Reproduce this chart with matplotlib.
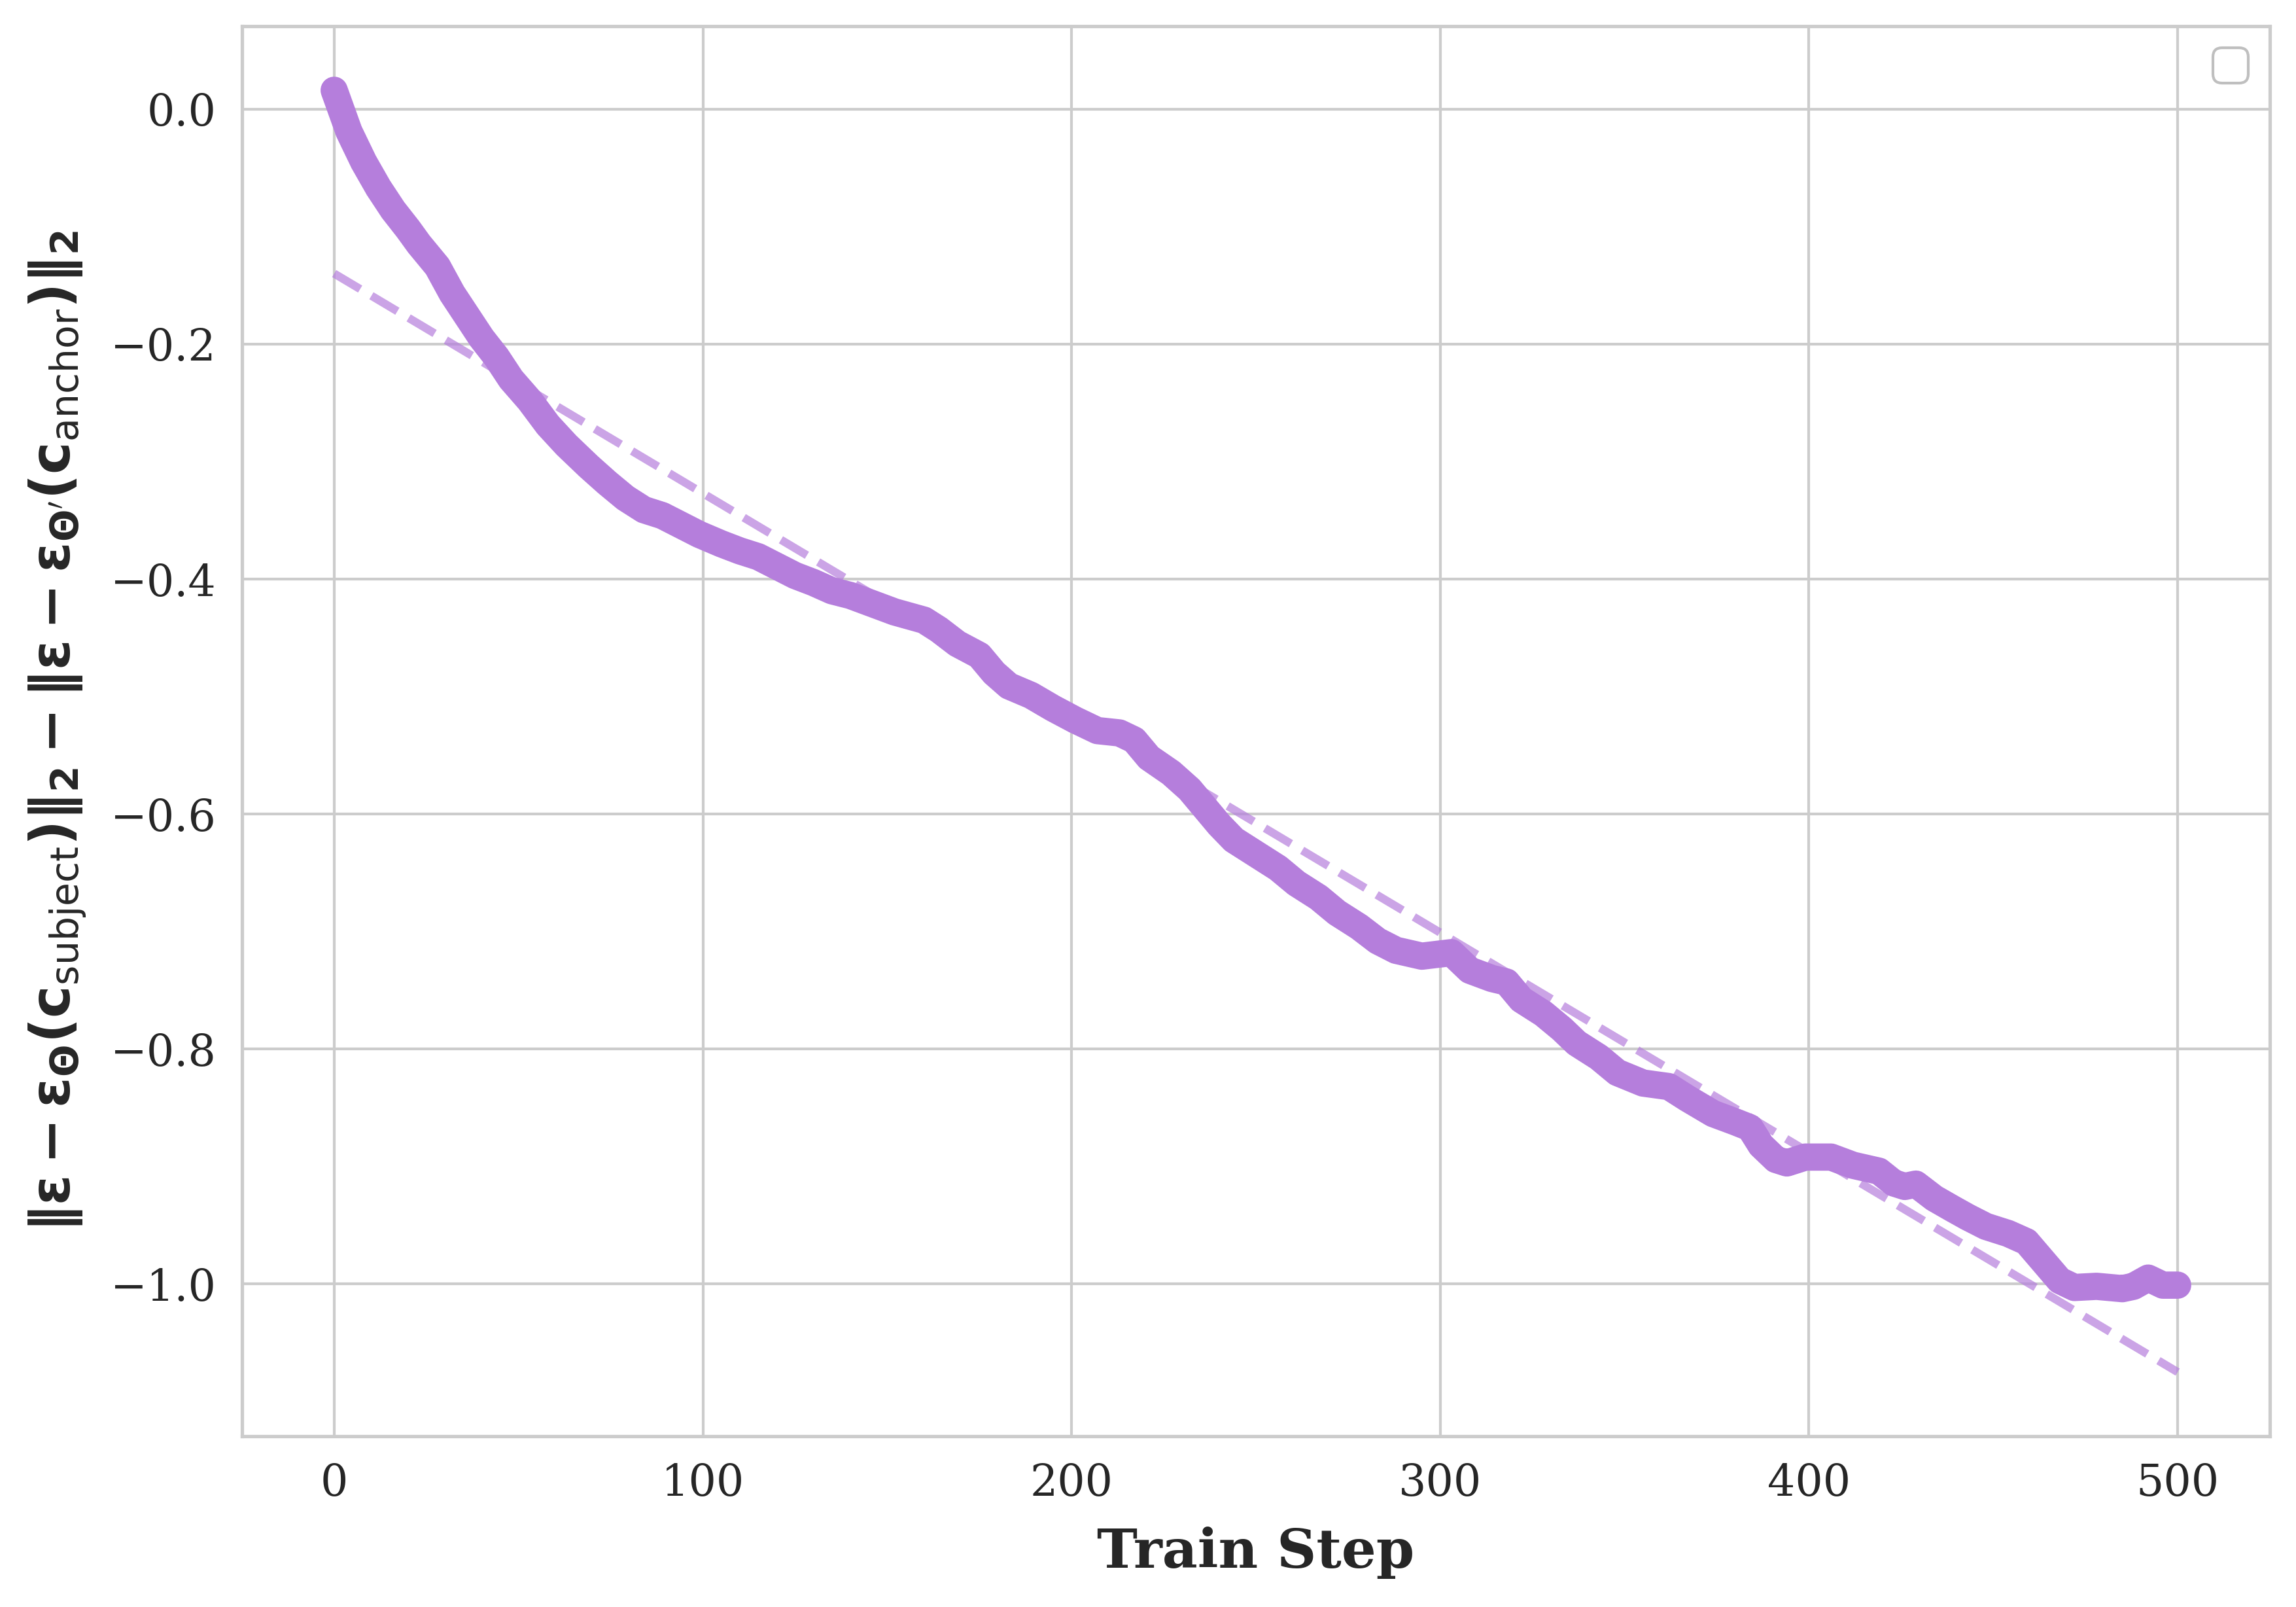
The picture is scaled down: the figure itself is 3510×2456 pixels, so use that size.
import numpy as np
import matplotlib
matplotlib.use("Agg")
import matplotlib.pyplot as plt
import seaborn as sns

# values
steps = [0, 4, 8, 12, 16, 20, 23, 28, 32, 36, 40, 44, 48, 53, 58, 63, 69, 74, 79,
         84, 89, 94, 99, 105, 110, 115, 120, 125, 130, 135, 140, 146, 152, 160,
         164, 169, 175, 179, 183, 189, 195, 201, 207, 213, 217, 221, 227, 232,
         236, 240, 244, 250, 256, 261, 267, 272, 278, 283, 288, 295, 303, 308,
         314, 318, 322, 328, 333, 337, 343, 348, 355, 362, 367, 374, 380, 384,
         387, 391, 394, 399, 406, 412, 419, 423, 426, 429, 434, 439, 443, 448,
         454, 459, 462, 465, 468, 472, 478, 485, 488, 492, 496, 500]
diff = [0.016, -0.019, -0.045, -0.067, -0.086, -0.102, -0.115, -0.134, -0.157,
        -0.176, -0.195, -0.211, -0.230, -0.248, -0.269, -0.286, -0.304, -0.318,
        -0.331, -0.341, -0.346, -0.354, -0.362, -0.370, -0.376, -0.381, -0.389,
        -0.397, -0.403, -0.410, -0.414, -0.421, -0.428, -0.435, -0.443, -0.455,
        -0.465, -0.480, -0.491, -0.499, -0.510, -0.520, -0.529, -0.531, -0.537,
        -0.552, -0.565, -0.579, -0.594, -0.609, -0.622, -0.634, -0.646, -0.659,
        -0.671, -0.684, -0.696, -0.708, -0.716, -0.721, -0.718, -0.733, -0.740,
        -0.743, -0.758, -0.770, -0.783, -0.795, -0.807, -0.820, -0.829, -0.832,
        -0.842, -0.855, -0.862, -0.867, -0.882, -0.894, -0.897, -0.892, -0.892,
        -0.899, -0.904, -0.914, -0.917, -0.915, -0.927, -0.936, -0.943, -0.951,
        -0.957, -0.964, -0.975, -0.986, -0.997, -1.003, -1.002, -1.004, -1.002,
        -0.995, -1.001, -1.001]
fit_x = [0, 500]
fit_y = [-0.140, -1.075]

colour = "#b57edc"

sns.set_theme(style="whitegrid")
plt.rcParams['font.family'] = ['DejaVu Serif']
plt.rcParams['mathtext.fontset'] = 'dejavusans'

fig, ax = plt.subplots(figsize=(11.7, 8.1867), dpi=300)
fig.subplots_adjust(left=0.1054, right=0.9886, top=0.9837, bottom=0.1063)

ax.plot(steps, diff, color=colour, linewidth=10, solid_capstyle='round', solid_joinstyle='round')
ax.plot(fit_x, fit_y, '--', color=colour, linewidth=3, alpha=0.7)

ax.set_xlabel("Train Step", fontsize=20, fontweight='bold', labelpad=8)
ax.set_ylabel(r'$\mathbf{\|\varepsilon - \varepsilon_{\Theta}(c_{\mathrm{subject}})\|_2 - \|\varepsilon - \varepsilon_{\Theta^{\prime}}(c_{\mathrm{anchor}})\|_2}$',
              fontsize=20, labelpad=8)
ax.tick_params(labelsize=16)
leg = ax.legend(fontsize=16)
leg.get_frame().set_edgecolor('#b0b0b0')

fig.savefig("out.png", dpi=300)
